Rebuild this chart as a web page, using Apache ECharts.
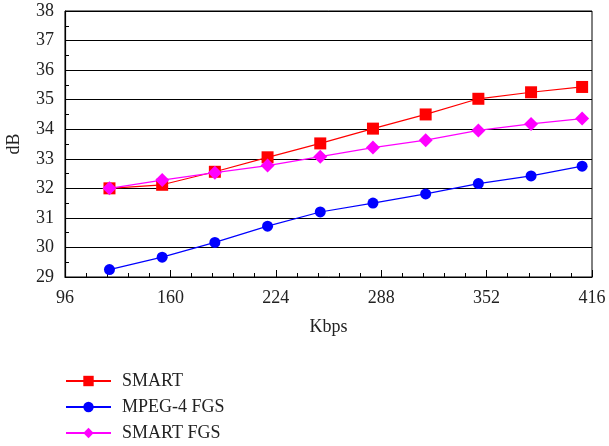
<!DOCTYPE html>
<html>
<head>
<meta charset="utf-8">
<script src="https://cdn.jsdelivr.net/npm/echarts@6/dist/echarts.min.js"></script>
<style>
  html, body { margin: 0; padding: 0; background: #fff; }
  #chart { width: 609px; height: 446px; }
</style>
</head>
<body>
<div id="chart"></div>
<script>
// Bit rate (Kbps) of each measurement
const rates = [123, 155, 187, 219, 251, 283, 315, 347, 379, 410];
// PSNR (dB) per scheme
const smart = [32.0, 32.12, 32.56, 33.05, 33.52, 34.02, 34.5, 35.03, 35.25, 35.43];
const mpeg4Fgs = [29.25, 29.67, 30.17, 30.72, 31.2, 31.5, 31.81, 32.16, 32.42, 32.75];
const smartFgs = [32.0, 32.28, 32.53, 32.77, 33.07, 33.38, 33.63, 33.96, 34.18, 34.36];
const xTicks = [96, 160, 224, 288, 352, 416];

const font = 'Liberation Serif';
const pairs = (ys) => rates.map((x, i) => [x, ys[i]]);

const chart = echarts.init(document.getElementById('chart'));
chart.setOption({
  animation: false,
  textStyle: { fontFamily: font },
  grid: {
    left: 65, right: 17, top: 11, bottom: 169,
    outerBoundsMode: 'none', containLabel: false,
    show: true, borderColor: '#000', borderWidth: 1
  },
  xAxis: {
    type: 'value',
    min: xTicks[0], max: xTicks[xTicks.length - 1], interval: 64,
    name: 'Kbps', nameLocation: 'middle', nameGap: 41,
    nameTextStyle: { fontFamily: font, fontSize: 18, color: '#222' },
    axisLine: { lineStyle: { color: '#000', width: 1.2 } },
    axisTick: { inside: true, length: 7, lineStyle: { color: '#000' } },
    minorTick: { show: true, splitNumber: 5, length: 4, lineStyle: { color: '#000' } },
    axisLabel: { fontFamily: font, fontSize: 18, color: '#222', margin: 12 },
    splitLine: { show: false }
  },
  yAxis: {
    type: 'value',
    min: 29, max: 38, interval: 1,
    name: 'dB', nameLocation: 'middle', nameGap: 42, nameRotate: 90,
    nameTextStyle: { fontFamily: font, fontSize: 18, color: '#222' },
    axisLine: { lineStyle: { color: '#000', width: 1.2 } },
    axisTick: { inside: true, length: 5, lineStyle: { color: '#000' } },
    minorTick: { show: true, splitNumber: 2, length: 4, lineStyle: { color: '#000' } },
    axisLabel: { fontFamily: font, fontSize: 18, color: '#222', margin: 11 },
    splitLine: { show: true, lineStyle: { color: '#000', width: 1.2 } }
  },
  legend: {
    orient: 'vertical', left: 65, top: 372, height: 74, padding: 0,
    itemWidth: 45, itemHeight: 13, itemGap: 8,
    textStyle: { fontFamily: font, fontSize: 18, color: '#222', padding: [0, 0, 0, 6] },
    data: ['SMART', 'MPEG-4 FGS', 'SMART FGS']
  },
  series: [
    {
      name: 'SMART', type: 'line', data: pairs(smart),
      symbol: 'rect', symbolSize: 12,
      lineStyle: { color: '#f00', width: 1.2 }, itemStyle: { color: '#f00' }
    },
    {
      name: 'MPEG-4 FGS', type: 'line', data: pairs(mpeg4Fgs),
      symbol: 'circle', symbolSize: 11,
      lineStyle: { color: '#00f', width: 1.2 }, itemStyle: { color: '#00f' }
    },
    {
      name: 'SMART FGS', type: 'line', data: pairs(smartFgs),
      symbol: 'diamond', symbolSize: 14,
      lineStyle: { color: '#f0f', width: 1.2 }, itemStyle: { color: '#f0f' }
    }
  ]
});
</script>
</body>
</html>
